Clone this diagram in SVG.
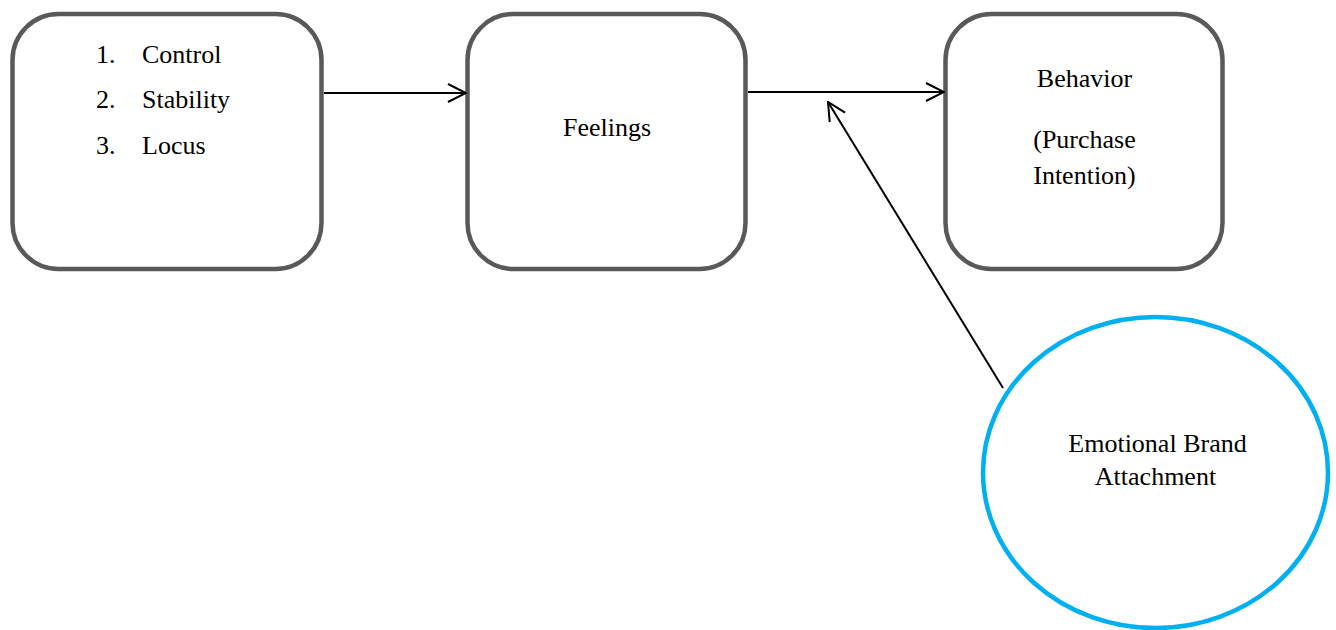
<svg xmlns="http://www.w3.org/2000/svg" width="1336" height="630" viewBox="0 0 1336 630">
<style>
.box{fill:#fff;stroke:#595959;stroke-width:4.5}
.ell{fill:#fff;stroke:#00B0F0;stroke-width:4.5}
text{font-family:'Liberation Serif','Times New Roman','DejaVu Serif',serif;font-size:26px;fill:#000}
.c{text-anchor:middle}
.con{stroke:#000;stroke-width:2;fill:none}
</style>
<defs>
<marker id="open" viewBox="0 0 20 20" refX="19" refY="10" markerWidth="20" markerHeight="20" markerUnits="userSpaceOnUse" orient="auto">
<path d="M1,1 L19,10 L1,19" fill="none" stroke="#000" stroke-width="2"/>
</marker>
</defs>
<rect width="1336" height="630" fill="#fff"/>
<g id="node-attributions" font-family="Liberation Serif, serif">
<rect class="box" x="12.5" y="14" width="309" height="255" rx="46" ry="46"/>
<text x="96" y="63">1.</text>
<text x="142" y="63">Control</text>
<text x="96" y="108">2.</text>
<text x="142" y="108">Stability</text>
<text x="96" y="154">3.</text>
<text x="142" y="154">Locus</text>
</g>
<g id="node-feelings">
<rect class="box" x="467.5" y="14" width="278" height="255" rx="46" ry="46"/>
<text class="c" x="607" y="136">Feelings</text>
</g>
<g id="node-behavior">
<rect class="box" x="945.5" y="14" width="277" height="255" rx="46" ry="46"/>
<text class="c" x="1084.5" y="87">Behavior</text>
<text class="c" x="1084.5" y="148">(Purchase</text>
<text class="c" x="1084.5" y="184">Intention)</text>
</g>
<g id="node-attachment">
<ellipse class="ell" cx="1155.5" cy="472.5" rx="172.5" ry="155.5"/>
<text class="c" x="1157.5" y="452">Emotional Brand</text>
<text class="c" x="1155.5" y="485">Attachment</text>
</g>
<g id="connectors">
<line class="con" x1="324" y1="93" x2="466" y2="93" marker-end="url(#open)"/>
<line class="con" x1="748" y1="92" x2="944" y2="92" marker-end="url(#open)"/>
<line class="con" x1="1003" y1="388" x2="828" y2="102" marker-end="url(#open)"/>
</g>
</svg>
